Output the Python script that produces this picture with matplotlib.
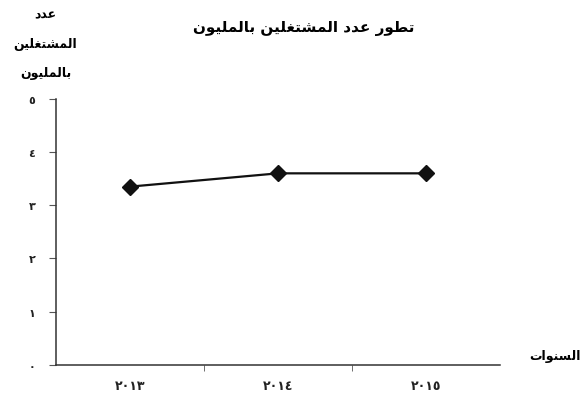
import matplotlib.pyplot as plt
import numpy as np

# --- data ---
years = ['٢٠١٣', '٢٠١٤', '٢٠١٥']
workers = [3.35, 3.6, 3.6]
y_ticks = [0, 1, 2, 3, 4, 5]
y_labels = ['٠', '١', '٢', '٣', '٤', '٥']

title = 'تطور عدد المشتغلين بالمليون'
ylabel_lines = ['عدد', 'المشتغلين', 'بالمليون']
xlabel = 'السنوات'

# matplotlib does no arabic shaping, so pick presentation forms by hand
# (isolated, final, initial, medial) ; None = letter does not join the next one
forms = {
    'ا': ('\uFE8D', '\uFE8E', None, None),
    'ب': ('\uFE8F', '\uFE90', '\uFE91', '\uFE92'),
    'ت': ('\uFE95', '\uFE96', '\uFE97', '\uFE98'),
    'د': ('\uFEA9', '\uFEAA', None, None),
    'ر': ('\uFEAD', '\uFEAE', None, None),
    'س': ('\uFEB1', '\uFEB2', '\uFEB3', '\uFEB4'),
    'ش': ('\uFEB5', '\uFEB6', '\uFEB7', '\uFEB8'),
    'ط': ('\uFEC1', '\uFEC2', '\uFEC3', '\uFEC4'),
    'ع': ('\uFEC9', '\uFECA', '\uFECB', '\uFECC'),
    'غ': ('\uFECD', '\uFECE', '\uFECF', '\uFED0'),
    'ل': ('\uFEDD', '\uFEDE', '\uFEDF', '\uFEE0'),
    'م': ('\uFEE1', '\uFEE2', '\uFEE3', '\uFEE4'),
    'ن': ('\uFEE5', '\uFEE6', '\uFEE7', '\uFEE8'),
    'و': ('\uFEED', '\uFEEE', None, None),
    'ي': ('\uFEF1', '\uFEF2', '\uFEF3', '\uFEF4'),
}


def shape(text):
    out = []
    for i, c in enumerate(text):
        if c not in forms:
            out.append(c)
            continue
        prev = text[i - 1] if i > 0 else None
        nxt = text[i + 1] if i + 1 < len(text) else None
        jp = prev in forms and forms[prev][2] is not None
        jn = nxt in forms and forms[c][2] is not None
        iso, fin, ini, med = forms[c]
        if jp and jn:
            out.append(med)
        elif jp:
            out.append(fin)
        elif jn:
            out.append(ini)
        else:
            out.append(iso)
    return ''.join(out)[::-1]


fig = plt.figure(figsize=(5.84, 4.06), dpi=100)
ax = fig.add_axes([0.096, 0.099, 0.76, 0.655])

x = np.arange(len(years))
ax.plot(x, workers, color='#111111', linewidth=1.6, marker='D', markersize=8.5)

ax.set_xlim(-0.5, 2.5)
ax.set_ylim(0, 5)
ax.spines['top'].set_visible(False)
ax.spines['right'].set_visible(False)
for s in ['left', 'bottom']:
    ax.spines[s].set_color('#333333')
    ax.spines[s].set_linewidth(1.1)

ax.set_xticks(x)
ax.set_xticklabels(years, fontsize=9, fontweight='bold', color='#222222')
ax.tick_params(axis='x', length=0, pad=10)
ax.set_xticks([0.5, 1.5], minor=True)
ax.tick_params(axis='x', which='minor', length=4, direction='out', color='#555555')

ax.set_yticks(y_ticks)
ax.set_yticklabels(y_labels, fontsize=8, fontweight='bold', color='#222222')
ax.tick_params(axis='y', length=5, direction='out', pad=10, color='#555555')

fig.text(0.52, 0.93, shape(title), ha='center', va='center', fontsize=11, fontweight='bold')
for i, line in enumerate(ylabel_lines):
    fig.text(0.078, 0.963 - i * 0.072, shape(line), ha='center', va='center',
             fontsize=9, fontweight='bold')
fig.text(0.95, 0.122, shape(xlabel), ha='center', va='center', fontsize=9, fontweight='bold')

plt.savefig('out.png')
